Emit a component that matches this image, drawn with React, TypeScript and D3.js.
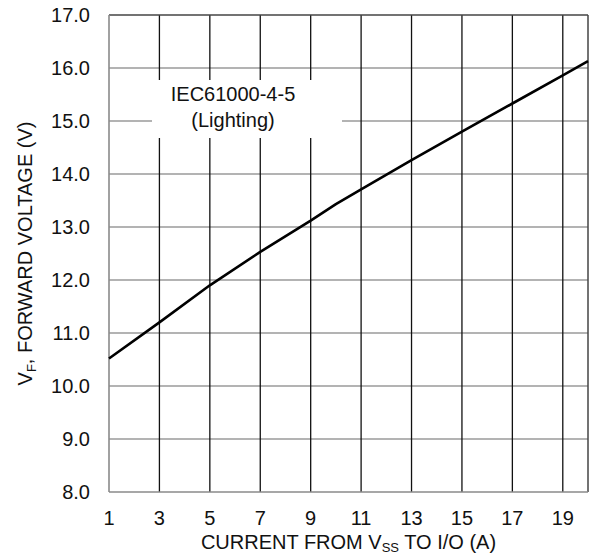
import React from "react";
import * as d3 from "d3";

const currentA = [1, 3, 5, 7, 9, 10, 11, 13, 15, 17, 19, 20];
const forwardV = [10.52, 11.2, 11.9, 12.53, 13.12, 13.43, 13.71, 14.26, 14.8, 15.33, 15.86, 16.13];
const xTicks = [1, 3, 5, 7, 9, 11, 13, 15, 17, 19];
const yTicks = [8, 9, 10, 11, 12, 13, 14, 15, 16, 17];
const vGrid = [3, 5, 7, 9, 11, 13, 15, 17, 19];
const hGrid = [9, 10, 11, 12, 13, 14, 15, 16];
const labelLines = ["IEC61000-4-5", "(Lighting)"];

const W = 595, H = 554;
const L = 109, R = 588, T = 15, B = 492;
const FONT = "'Liberation Sans', Arial, sans-serif";
const FS = 20;

export default function App() {
  const x = d3.scaleLinear().domain([1, 20]).range([L, R]);
  const y = d3.scaleLinear().domain([8, 17]).range([B, T]);
  const line = d3.line<number>().x((_, i) => x(currentA[i])).y((d) => y(d));
  return (
    <svg width={W} height={H} style={{ position: "absolute", left: 0, top: 0 }} fontFamily={FONT}>
      <rect x={0} y={0} width={W} height={H} fill="#fff" />
      {hGrid.map((v) => (
        <line key={"h" + v} x1={L} x2={R} y1={y(v)} y2={y(v)} stroke="#9a9a9a" strokeWidth={1.4} />
      ))}
      {vGrid.map((v) => (
        <line key={"v" + v} x1={x(v)} x2={x(v)} y1={T} y2={B} stroke="#111" strokeWidth={1.3} />
      ))}
      <line x1={L} x2={R} y1={T} y2={T} stroke="#444" strokeWidth={1.5} />
      <line x1={R} x2={R} y1={T} y2={B} stroke="#444" strokeWidth={1.5} />
      <line x1={L} x2={L} y1={T} y2={B} stroke="#8a8a8a" strokeWidth={1.6} />
      <line x1={L} x2={R} y1={B} y2={B} stroke="#8a8a8a" strokeWidth={1.6} />
      <rect x={152} y={80} width={190} height={58} fill="#fff" />
      {labelLines.map((t, i) => (
        <text key={t} x={233} y={101 + i * 26} textAnchor="middle" fontSize={FS} fill="#111">
          {t}
        </text>
      ))}
      <path d={line(forwardV) || ""} fill="none" stroke="#000" strokeWidth={2.6} strokeLinejoin="round" />
      {yTicks.map((v) => (
        <text key={"yt" + v} x={90} y={y(v)} dy="0.35em" textAnchor="end" fontSize={FS} fill="#111">
          {v.toFixed(1)}
        </text>
      ))}
      {xTicks.map((v) => (
        <text key={"xt" + v} x={x(v)} y={525} textAnchor="middle" fontSize={FS} fill="#111">
          {v}
        </text>
      ))}
      <text transform={`translate(32, ${(T + B) / 2}) rotate(-90)`} textAnchor="middle" fontSize={FS} fill="#111">
        V<tspan fontSize={13} dy={4}>F</tspan>
        <tspan dy={-4}>, FORWARD VOLTAGE (V)</tspan>
      </text>
      <text x={(L + R) / 2} y={549} textAnchor="middle" fontSize={FS} fill="#111">
        CURRENT FROM V<tspan fontSize={13} dy={3}>SS</tspan>
        <tspan dy={-3}> TO I/O (A)</tspan>
      </text>
    </svg>
  );
}
